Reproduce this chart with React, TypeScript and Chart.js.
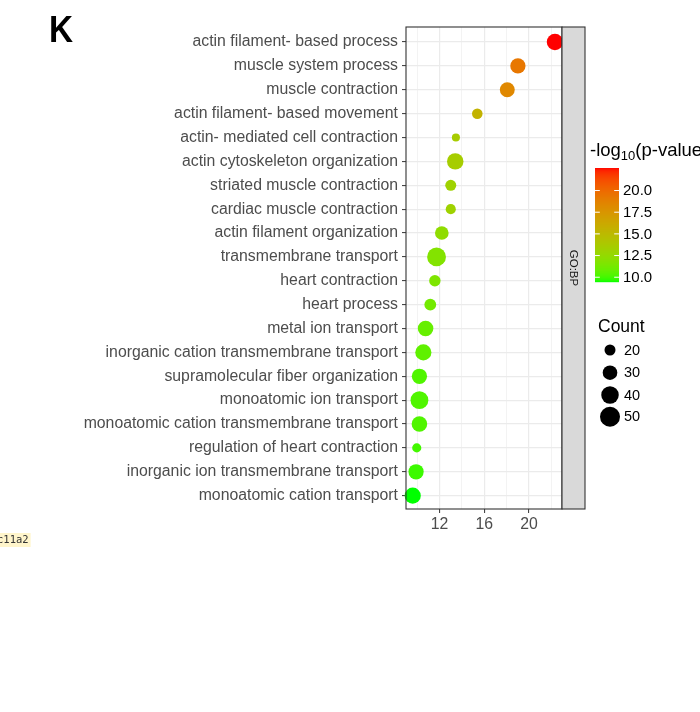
import React, { useEffect, useRef } from 'react';
import { Chart, registerables } from 'chart.js';

Chart.register(...registerables);

// ---------------- data ----------------
const terms: string[] = [
  'actin filament- based process',
  'muscle system process',
  'muscle contraction',
  'actin filament- based movement',
  'actin- mediated cell contraction',
  'actin cytoskeleton organization',
  'striated muscle contraction',
  'cardiac muscle contraction',
  'actin filament organization',
  'transmembrane transport',
  'heart contraction',
  'heart process',
  'metal ion transport',
  'inorganic cation transmembrane transport',
  'supramolecular fiber organization',
  'monoatomic ion transport',
  'monoatomic cation transmembrane transport',
  'regulation of heart contraction',
  'inorganic ion transmembrane transport',
  'monoatomic cation transport',
];
const xValues: number[] = [22.31, 19.0, 18.05, 15.37, 13.46, 13.4, 13.0, 13.0, 12.2, 11.73, 11.58, 11.17, 10.75, 10.55, 10.2, 10.2, 10.2, 9.96, 9.9, 9.6];
const counts: number[] = [36, 32, 31, 19, 14, 36, 20, 18, 27, 45, 21, 22, 33, 35, 32, 41, 33, 16, 32, 35];
const logP: number[] = [22.6, 19.3, 18.3, 15.5, 13.6, 13.5, 13.1, 13.1, 12.3, 11.8, 11.6, 11.2, 10.8, 10.6, 10.25, 10.25, 10.25, 10.0, 9.9, 9.45];

const xMajorTicks: number[] = [12, 16, 20];
const xGridTicks: number[] = [10, 12, 14, 16, 18, 20, 22];
const colorTicks: number[] = [10, 12.5, 15, 17.5, 20];
const sizeTicks: number[] = [20, 30, 40, 50];
const facetLabel = 'GO:BP';
const panelLabel = 'K';
const colorTitleMain = '-log';
const colorTitleSub = '10';
const colorTitleEnd = '(p-value)';
const sizeTitle = 'Count';
const strayText = 'c11a2';

// ---------------- helpers ----------------
const FONT = '"Liberation Sans", Arial, Helvetica, sans-serif';

function lin(c: number) {
  c /= 255;
  return c <= 0.04045 ? c / 12.92 : Math.pow((c + 0.055) / 1.055, 2.4);
}
function unlin(c: number) {
  const v = c <= 0.0031308 ? 12.92 * c : 1.055 * Math.pow(c, 1 / 2.4) - 0.055;
  return Math.round(Math.max(0, Math.min(1, v)) * 255);
}
function rgbToLab(rgb: number[]) {
  const R = lin(rgb[0]), G = lin(rgb[1]), B = lin(rgb[2]);
  const X = (0.4124 * R + 0.3576 * G + 0.1805 * B) / 0.95047;
  const Y = 0.2126 * R + 0.7152 * G + 0.0722 * B;
  const Z = (0.0193 * R + 0.1192 * G + 0.9505 * B) / 1.08883;
  const f = (t: number) => (t > 0.008856 ? Math.cbrt(t) : 7.787 * t + 16 / 116);
  const fx = f(X), fy = f(Y), fz = f(Z);
  return [116 * fy - 16, 500 * (fx - fy), 200 * (fy - fz)];
}
function labToRgb(lab: number[]) {
  const fy = (lab[0] + 16) / 116;
  const fx = fy + lab[1] / 500;
  const fz = fy - lab[2] / 200;
  const inv = (t: number) => (t * t * t > 0.008856 ? t * t * t : (t - 16 / 116) / 7.787);
  const X = inv(fx) * 0.95047, Y = inv(fy), Z = inv(fz) * 1.08883;
  const R = 3.2406 * X - 1.5372 * Y - 0.4986 * Z;
  const G = -0.9689 * X + 1.8758 * Y + 0.0415 * Z;
  const B = 0.0557 * X - 0.204 * Y + 1.057 * Z;
  return `rgb(${unlin(R)},${unlin(G)},${unlin(B)})`;
}
const LOW = rgbToLab([0, 255, 0]);
const HIGH = rgbToLab([255, 0, 0]);
const cMin = Math.min(...logP);
const cMax = Math.max(...logP);
function colorFor(v: number) {
  const t = Math.max(0, Math.min(1, (v - cMin) / (cMax - cMin)));
  return labToRgb([0, 1, 2].map((k) => LOW[k] + (HIGH[k] - LOW[k]) * t));
}
function diameter(count: number) {
  return Math.sqrt(Math.max(4, 9.3 * count - 65));
}

// ---------------- extra drawing ----------------
const decorPlugin = {
  id: 'decor',
  afterDraw(chart: any) {
    const ctx: CanvasRenderingContext2D = chart.ctx;
    const { left, right, top, bottom } = chart.chartArea;
    ctx.save();

    // panel border
    ctx.strokeStyle = '#333333';
    ctx.lineWidth = 1.1;
    ctx.strokeRect(left, top, right - left, bottom - top);

    // facet strip
    const sw = 23;
    ctx.fillStyle = '#D9D9D9';
    ctx.fillRect(right, top, sw, bottom - top);
    ctx.strokeRect(right, top, sw, bottom - top);
    ctx.save();
    ctx.translate(right + sw / 2, (top + bottom) / 2);
    ctx.rotate(Math.PI / 2);
    ctx.fillStyle = '#1A1A1A';
    ctx.font = `11.5px ${FONT}`;
    ctx.textAlign = 'center';
    ctx.textBaseline = 'middle';
    ctx.fillText(facetLabel, 0, 0);
    ctx.restore();

    // panel label K
    ctx.save();
    ctx.translate(49, 42);
    ctx.scale(0.9, 1);
    ctx.fillStyle = '#000';
    ctx.font = `bold 37px ${FONT}`;
    ctx.textAlign = 'left';
    ctx.textBaseline = 'alphabetic';
    ctx.fillText(panelLabel, 0, 0);
    ctx.restore();

    // colour legend title
    ctx.fillStyle = '#000';
    ctx.textAlign = 'left';
    ctx.textBaseline = 'alphabetic';
    ctx.font = `18.5px ${FONT}`;
    let tx = 590;
    ctx.fillText(colorTitleMain, tx, 156);
    tx += ctx.measureText(colorTitleMain).width;
    ctx.font = `13px ${FONT}`;
    ctx.fillText(colorTitleSub, tx, 160);
    tx += ctx.measureText(colorTitleSub).width;
    ctx.font = `18.5px ${FONT}`;
    ctx.fillText(colorTitleEnd, tx, 156);

    // colour bar
    const bx = 595, bw = 24, btop = 168, bbot = 282;
    const bh = bbot - btop;
    for (let i = 0; i < bh; i++) {
      const v = cMax - ((i + 0.5) / bh) * (cMax - cMin);
      ctx.fillStyle = colorFor(v);
      ctx.fillRect(bx, btop + i, bw, 1.2);
    }
    ctx.strokeStyle = '#FFFFFF';
    ctx.lineWidth = 1;
    ctx.font = `15px ${FONT}`;
    ctx.textBaseline = 'middle';
    colorTicks.forEach((v) => {
      const y = bbot - ((v - cMin) / (cMax - cMin)) * bh;
      ctx.beginPath();
      ctx.moveTo(bx, y);
      ctx.lineTo(bx + bw / 5, y);
      ctx.moveTo(bx + bw - bw / 5, y);
      ctx.lineTo(bx + bw, y);
      ctx.stroke();
      ctx.fillStyle = '#000';
      ctx.fillText(v.toFixed(1), 623, y + 0.5);
    });

    // size legend
    ctx.textBaseline = 'alphabetic';
    ctx.font = `17.5px ${FONT}`;
    ctx.fillStyle = '#000';
    ctx.fillText(sizeTitle, 598, 332);
    const ys = [350, 372.7, 395, 416.7];
    ctx.font = `14.5px ${FONT}`;
    ctx.textBaseline = 'middle';
    sizeTicks.forEach((c, i) => {
      ctx.beginPath();
      ctx.fillStyle = '#000';
      ctx.arc(610, ys[i], diameter(c) / 2, 0, Math.PI * 2);
      ctx.fill();
      ctx.fillText(String(c), 624, ys[i] + 0.5);
    });

    // stray text at the left
    ctx.font = `10.5px "DejaVu Sans Mono", monospace`;
    const w = ctx.measureText(strayText).width;
    ctx.fillStyle = 'rgba(255, 236, 160, 0.55)';
    ctx.fillRect(-4, 533, w + 3, 14);
    ctx.fillStyle = '#333';
    ctx.textBaseline = 'middle';
    ctx.fillText(strayText, -3, 540.5);

    ctx.restore();
  },
};

export default function App() {
  const ref = useRef<HTMLCanvasElement | null>(null);

  useEffect(() => {
    if (!ref.current) return;
    const chart = new Chart(ref.current, {
      type: 'bubble',
      data: {
        datasets: [
          {
            label: 'GO:BP',
            data: terms.map((_, i) => ({ x: xValues[i], y: i, r: diameter(counts[i]) / 2 })),
            backgroundColor: logP.map((v) => colorFor(v)),
            borderWidth: 0,
            hoverBorderWidth: 0,
            clip: false as any,
          },
        ],
      },
      options: {
        responsive: false,
        maintainAspectRatio: false,
        devicePixelRatio: 1,
        animation: false,
        events: [],
        layout: { padding: { top: 27, right: 138, bottom: 0, left: 0 } },
        plugins: { legend: { display: false }, tooltip: { enabled: false } },
        scales: {
          x: {
            type: 'linear',
            min: 9.0,
            max: 22.94,
            afterBuildTicks: (s: any) => {
              s.ticks = xGridTicks.map((v) => ({ value: v }));
            },
            afterFit: (s: any) => {
              s.height = 203;
            },
            ticks: {
              autoSkip: false,
              maxRotation: 0,
              padding: 2,
              color: '#4D4D4D',
              font: { family: FONT, size: 15.8 },
              callback: (v: any) => (xMajorTicks.includes(Number(v)) ? String(v) : ''),
            },
            grid: {
              color: '#EBEBEB',
              lineWidth: (c: any) => (c.tick && xMajorTicks.includes(c.tick.value) ? 1.2 : 0.6),
              tickColor: (c: any) => (c.tick && xMajorTicks.includes(c.tick.value) ? '#333333' : 'rgba(0,0,0,0)'),
              tickLength: 4,
              tickWidth: 1,
            },
            border: { display: false },
          },
          y: {
            type: 'linear',
            reverse: true,
            min: -0.63,
            max: 19.56,
            afterBuildTicks: (s: any) => {
              s.ticks = terms.map((_, i) => ({ value: i }));
            },
            afterFit: (s: any) => {
              s.width = 406;
            },
            ticks: {
              autoSkip: false,
              padding: 4,
              color: '#4D4D4D',
              font: { family: FONT, size: 15.8 },
              callback: (v: any) => terms[Number(v)] ?? '',
            },
            grid: {
              color: '#EBEBEB',
              lineWidth: 1.2,
              tickColor: '#333333',
              tickLength: 4,
              tickWidth: 1,
            },
            border: { display: false },
          },
        },
      } as any,
      plugins: [decorPlugin],
    });
    return () => chart.destroy();
  }, []);

  return (
    <div style={{ position: 'fixed', left: 0, top: 0, width: 700, height: 712, background: '#fff' }}>
      <canvas ref={ref} width={700} height={712} style={{ width: 700, height: 712, display: 'block' }} />
    </div>
  );
}
